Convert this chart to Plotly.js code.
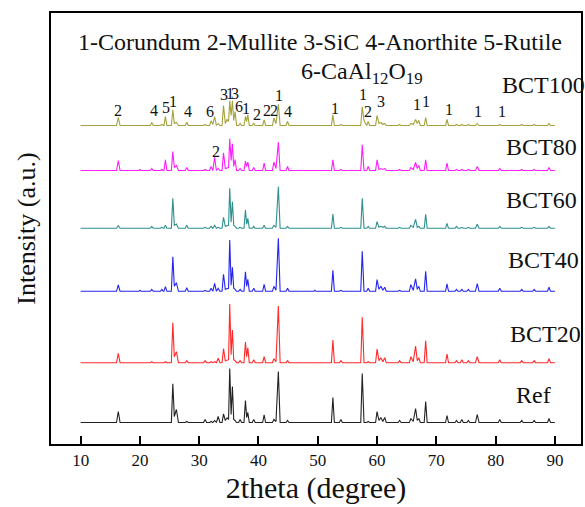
<!DOCTYPE html>
<html>
<head>
<meta charset="utf-8">
<script src="https://cdn.plot.ly/plotly-3.0.1.min.js"></script>
<style>html,body{margin:0;padding:0;background:#fff;}#chart{width:585px;height:507px;}</style>
</head>
<body>
<div id="chart"></div>
<script>
// Shared 2theta grid (degrees): peak tops and the baseline points around them
const twoTheta = [
  10,
  16.05,16.35,16.65,
  19.8,20.0,20.2,
  21.75,22.0,22.25,
  23.45,23.7,23.95,
  24.05,24.3,24.55,
  25.3,25.55,25.8,26.15,26.5,
  27.65,27.9,28.15,
  30.75,31.0,31.25,
  31.75,32.0,32.3,32.6,32.9,33.2,33.5,
  33.85,34.1,34.4,34.7,34.95,35.15,35.38,35.6,35.82,36.05,36.3,
  36.65,36.9,37.15,
  37.55,37.8,38.0,38.2,38.45,
  38.95,39.2,39.45,
  40.7,40.95,41.2,
  42.35,42.6,42.95,43.35,43.65,
  44.65,44.9,45.15,
  49.3,49.5,49.7,
  52.3,52.55,52.8,
  53.65,53.9,54.15,
  57.25,57.5,57.8,
  58.25,58.5,58.75,
  59.75,60.0,60.32,60.65,60.97,61.3,61.55,
  63.55,63.8,64.05,
  65.45,65.7,66.1,66.5,66.78,67.05,67.3,
  67.95,68.2,68.45,
  71.55,71.8,72.05,
  73.15,73.4,73.65,
  74.05,74.3,74.55,
  75.15,75.4,75.65,
  76.6,76.9,77.2,
  80.45,80.7,80.95,
  84.15,84.4,84.65,
  86.25,86.5,86.75,
  88.75,89.0,89.25,
  90
];

const intRef = [
  0,
  0,11,0,
  0,0,0,
  0,0,0,
  0,0,0,
  0,0,0,
  0,38.7,6,13,0,
  0,1,0,
  0,3,0,
  0,1,0,2,0,6,0,
  0,8.7,2,4.7,3,54,8,36,3,2,0,
  0,3,0,
  0,22,5,10,0,
  0,3,0,
  0,7.7,0,
  0,3,1,51,0,
  0,2,0,
  0,0,0,
  0,25,0,
  0,3,0,
  0,49,0,
  0,1,0,
  0,11,2,5,1,5,0,
  0,2,0,
  0,4,1,14,2,4,0,
  0,21,0,
  0,7,0,
  0,2,0,
  0,3,0,
  0,2,0,
  0,8,0,
  0,3,0,
  0,2,0,
  0,2,0,
  0,4,0,
  0
];

const intBCT20 = [
  0,
  0,9.4,0,
  0,0,0,
  0,1,0,
  0,0,0,
  0,1,0,
  0,40,6,11,0,
  0,2,0,
  0,2,0,
  0,1,0,1,0,4.4,0,
  0,14,2,3,3,58.7,8,32.7,3,2,0,
  0,2,0,
  0,20.7,6,15,0,
  0,3,0,
  0,6,0,
  0,4,1,56.7,0,
  0,2,0,
  0,0,0,
  0,22.7,0,
  0,2,0,
  0,45.4,0,
  0,1,0,
  0,13.7,2,5,1,5,0,
  0,2,0,
  0,6,1,16.7,2,5,0,
  0,22,0,
  0,8.7,0,
  0,2,0,
  0,3,0,
  0,2,0,
  0,6,0,
  0,3,0,
  0,2,0,
  0,2,0,
  0,4,0,
  0
];

const intBCT40 = [
  0,
  0,6.3,0,
  0,1,0,
  0,2,0,
  0,2,0,
  0,4.6,0,
  0,34.6,5,8.6,0,
  0,3.5,0,
  0,1,0,
  0,3,0,8,0,3,0,
  0,17,2,3,3,51.3,6,24,3,2,0,
  0,2,0,
  0,19.6,5,12,0,
  0,3,0,
  0,7,0,
  0,5,1,53,0,
  0,3,0,
  0,1,0,
  0,21,0,
  0,1,0,
  0,40,0,
  0,3,0,
  0,11.7,2,5,1,4,0,
  0,1,0,
  0,6.7,1,12.4,2,5,0,
  0,20,0,
  0,7.4,0,
  0,2,0,
  0,2,0,
  0,2,0,
  0,7.7,0,
  0,3,0,
  0,2,0,
  0,2,0,
  0,4,0,
  0
];

const intBCT60 = [
  0,
  0,2.5,0,
  0,0,0,
  0,2,0,
  0,1,0,
  0,3,0,
  0,30,3,4.3,0,
  0,3,0,
  0,1,0,
  0,2,0,3,0,1,0,
  0,11,2,3,3,40,6,26.6,3,2,0,
  0,1,0,
  0,18.3,4,10,0,
  0,2,0,
  0,3,0,
  0,3,1,41.6,0,
  0,2,0,
  0,0,0,
  0,14.3,0,
  0,1,0,
  0,30,0,
  0,2,0,
  0,6.7,1,2,1,2,0,
  0,1,0,
  0,3,1,9,1,2,0,
  0,14,0,
  0,5,0,
  0,2,0,
  0,1,0,
  0,1,0,
  0,4,0,
  0,2,0,
  0,1,0,
  0,1,0,
  0,2,0,
  0
];

const intBCT80 = [
  0,
  0,10,0,
  0,1,0,
  0,2,0,
  0,1,0,
  0,10.7,0,
  0,19,3,5,0,
  0,3,0,
  0,1,0,
  0,4,0,13.3,0,2,0,
  0,17.7,2,3,3,31.7,10,26.7,4,11,0,
  0,2,0,
  0,9.3,4,8.3,0,
  0,3,0,
  0,7.3,0,
  0,8.3,2,28.3,0,
  0,4,0,
  0,0,0,
  0,10.7,0,
  0,1,0,
  0,25.7,0,
  0,4,0,
  0,10.7,1,2,1,2,0,
  0,1,0,
  0,3,1,8,2,5,0,
  0,10.7,0,
  0,7.4,0,
  0,1,0,
  0,1,0,
  0,1,0,
  0,4,0,
  0,2,0,
  0,1,0,
  0,1,0,
  0,3,0,
  0
];

const intBCT100 = [
  0,
  0,8,0,
  0,0,0,
  0,3,0,
  0,1,0,
  0,9,0,
  0,15.7,2,3,0,
  0,3.3,0,
  0,1,0,
  0,4.7,1,9,0,2,0,
  0,20,2,6,4,24.7,10,24.7,5,14,0,
  0,2,0,
  0,9,4,10.7,0,
  0,2.3,0,
  0,5.7,0,
  0,7.3,2,21.3,0,
  0,4,0,
  0,0,0,
  0,10.7,0,
  0,1,0,
  0,19,5,
  0,4,0,
  0,10,2,3,1,2,0,
  0,1,0,
  0,2,1,6,2,5,0,
  0,8,0,
  0,6,0,
  0,1,0,
  0,1,0,
  0,1,0,
  0,2,0,
  0,1,0,
  0,1,0,
  0,1,0,
  0,2,0,
  0
];

const seriesNames = ['Ref', 'BCT20', 'BCT40', 'BCT60', 'BCT80', 'BCT100'];
const seriesValues = [intRef, intBCT20, intBCT40, intBCT60, intBCT80, intBCT100];
const seriesOffsets = [21.5, 81.3, 152.7, 215.7, 273.5, 318.5];

// Phase labels above the BCT100 / BCT80 patterns
const phaseLabelText = ['2','4','5','1','4','6','3','1','3','6','1','2','2','2','1','4','1','1','2','3','1','1','1','1','1','2'];
const phaseLabelTheta = [16.35,22.4,24.4,25.65,28.1,31.8,34.15,35.25,36.1,36.75,37.85,39.7,41.5,42.65,43.4,45.0,52.85,57.7,58.5,60.6,66.8,68.2,72.2,76.95,81.0,32.8];
const phaseLabelLevel = [334,334,337,342.5,332.5,332.5,350,351,351,337.5,336,330,334,334,349,332.5,335.7,350,333,343,340,343,335,333,333,292.3];

const colors = ['#222222', '#ff2a2a', '#2424f0', '#2e8f8f', '#ff1cff', '#a3a23c'];

const traces = seriesValues.map((vals, i) => ({
  x: twoTheta,
  y: vals.map(v => v + seriesOffsets[i]),
  type: 'scatter',
  mode: 'lines',
  name: seriesNames[i],
  line: {color: colors[i], width: 1.1},
  hoverinfo: 'skip'
}));

const serif = 'Liberation Serif, Times New Roman, serif';
const W = 530, H = 431, L = 51, T = 13;
function px(x) { return (x - L) / W; }
function py(y) { return (T + H - y) / H; }

const annotations = [];
phaseLabelText.forEach((t, i) => {
  annotations.push({
    x: phaseLabelTheta[i], y: phaseLabelLevel[i], xref: 'x', yref: 'y',
    text: t, showarrow: false, xanchor: 'center', yanchor: 'middle',
    font: {family: serif, size: 16, color: '#111'}
  });
});

const seriesLabelPos = [[514, 395], [508, 334], [506, 260], [504, 200], [504, 146.7], [500, 85]];
seriesNames.forEach((n, i) => {
  annotations.push({
    x: px(seriesLabelPos[i][0]), y: py(seriesLabelPos[i][1]), xref: 'paper', yref: 'paper',
    text: n, showarrow: false, xanchor: 'left', yanchor: 'middle',
    font: {family: serif, size: 24, color: '#111'}
  });
});

annotations.push({
  x: px(320), y: py(42), xref: 'paper', yref: 'paper',
  text: '1-Corundum 2-Mullite 3-SiC 4-Anorthite 5-Rutile', showarrow: false,
  xanchor: 'center', yanchor: 'middle', font: {family: serif, size: 24, color: '#111'}
});
annotations.push({
  x: px(362), y: py(73), xref: 'paper', yref: 'paper',
  text: '6-CaAl<sub>12</sub>O<sub>19</sub>', showarrow: false,
  xanchor: 'center', yanchor: 'middle', font: {family: serif, size: 24, color: '#111'}
});

const layout = {
  width: 585, height: 507,
  margin: {l: L, r: 585 - L - W, t: T, b: 507 - T - H},
  paper_bgcolor: '#fff', plot_bgcolor: '#fff',
  showlegend: false,
  xaxis: {
    range: [5, 94.4], tickvals: [10,20,30,40,50,60,70,80,90],
    ticks: 'inside', ticklen: 8, tickwidth: 2, tickcolor: '#000',
    showline: true, mirror: true, linewidth: 2, linecolor: '#000',
    showgrid: false, zeroline: false,
    tickfont: {family: serif, size: 17, color: '#111'},
    title: {text: '2theta (degree)', font: {family: serif, size: 30, color: '#111'}, standoff: 8}
  },
  yaxis: {
    range: [0, 431], showticklabels: false, ticks: '',
    showline: true, mirror: true, linewidth: 2, linecolor: '#000',
    showgrid: false, zeroline: false,
    title: {text: 'Intensity (a.u.)', font: {family: serif, size: 26, color: '#111'}, standoff: 6}
  },
  annotations: annotations
};

Plotly.newPlot('chart', traces, layout, {staticPlot: true, displayModeBar: false});
</script>
</body>
</html>
